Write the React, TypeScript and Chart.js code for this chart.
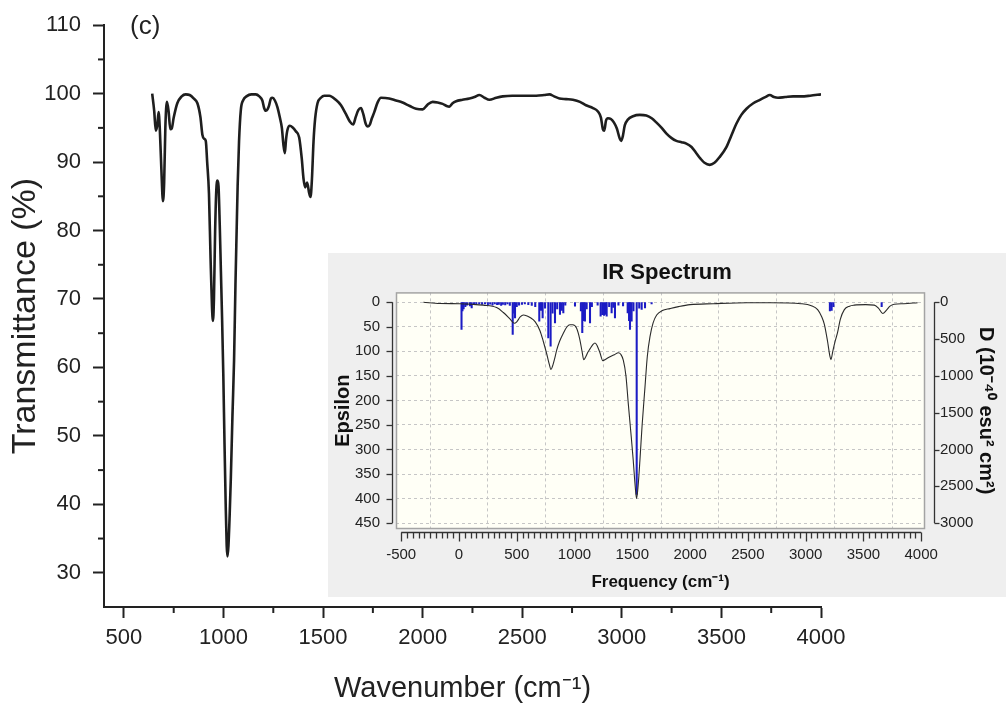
import React, { useEffect, useRef } from 'react';
import { Chart, registerables } from 'chart.js';

Chart.register(...registerables);

const FONT = "'Liberation Sans', Arial, Helvetica, sans-serif";

// ---------- main spectrum (FT-IR transmittance) ----------
const mainWavenumber = [
  642, 652, 660, 668, 674, 680, 688, 696, 702, 708, 716, 724, 733, 740, 750, 768, 790, 810, 830, 850,
  869, 884, 894, 903, 911, 918, 927, 935, 942, 947, 952, 958, 964, 970, 975, 981, 987, 993, 999, 1005,
  1011, 1016, 1020, 1025, 1031, 1037, 1045, 1053, 1060, 1066, 1071, 1078, 1087, 1100, 1115, 1140, 1162, 1180, 1195, 1204,
  1212, 1221, 1229, 1238, 1246, 1258, 1271, 1283, 1293, 1301, 1308, 1314, 1321, 1333, 1346, 1363, 1380, 1393, 1402, 1410,
  1420, 1430, 1437, 1444, 1452, 1460, 1472, 1489, 1506, 1531, 1564, 1590, 1615, 1635, 1651, 1664, 1677, 1690, 1702, 1714,
  1725, 1735, 1745, 1757, 1775, 1791, 1832, 1866, 1899, 1935, 1967, 2000, 2025, 2050, 2075, 2100, 2120, 2134, 2150, 2168,
  2200, 2235, 2260, 2285, 2310, 2335, 2370, 2402, 2450, 2500, 2570, 2610, 2637, 2660, 2687, 2720, 2754, 2790, 2820, 2855,
  2880, 2895, 2905, 2912, 2920, 2930, 2945, 2960, 2975, 2990, 2997, 3005, 3015, 3030, 3056, 3090, 3123, 3150, 3173, 3200,
  3223, 3250, 3274, 3300, 3324, 3350, 3374, 3395, 3415, 3441, 3465, 3490, 3525, 3550, 3575, 3600, 3626, 3660, 3693, 3720,
  3743, 3764, 3784, 3820, 3860, 3900, 3945, 4000,
];
const mainTransmittance = [
  100.0, 97.5, 94.6, 95.5, 97.3, 95.0, 89.0, 84.3, 87.0, 95.0, 98.8, 97.5, 94.8, 94.9, 96.5, 98.6, 99.6, 99.9, 99.8, 99.3,
  98.6, 96.6, 94.0, 93.4, 93.1, 90.0, 85.4, 76.0, 69.0, 66.8, 70.0, 80.0, 86.0, 87.3, 86.5, 81.0, 74.0, 67.0, 59.0, 49.0,
  40.0, 34.0, 32.4, 34.0, 38.5, 44.0, 53.0, 61.0, 72.0, 80.0, 86.5, 93.0, 97.6, 99.1, 99.6, 99.9, 99.9, 99.6, 99.0, 97.9,
  97.5, 97.7, 98.3, 99.3, 99.4, 99.0, 98.0, 96.5, 95.0, 92.5, 91.3, 93.3, 94.7, 95.3, 95.1, 94.5, 93.6, 90.5, 87.5, 86.3,
  87.0, 85.5, 84.9, 87.5, 93.0, 96.3, 98.6, 99.4, 99.7, 99.7, 99.1, 98.3, 97.0, 95.9, 95.5, 96.6, 97.6, 97.9, 97.0, 95.6,
  95.2, 95.5, 96.4, 97.3, 98.8, 99.4, 99.3, 99.0, 98.7, 98.2, 97.8, 97.7, 98.4, 98.8, 98.7, 98.5, 98.2, 98.1, 98.6, 98.9,
  99.1, 99.3, 99.5, 99.8, 99.4, 99.1, 99.4, 99.6, 99.7, 99.7, 99.7, 99.8, 99.9, 99.6, 99.3, 99.2, 99.1, 98.8, 98.3, 97.9,
  97.4, 96.5, 94.8, 94.6, 96.0, 96.4, 96.3, 95.8, 94.9, 93.4, 93.1, 93.8, 95.4, 96.2, 96.7, 96.9, 96.8, 96.4, 95.8, 95.0,
  94.2, 93.5, 93.1, 92.9, 92.7, 92.2, 91.3, 90.5, 89.9, 89.6, 89.9, 90.7, 92.2, 93.9, 95.6, 96.9, 97.8, 98.6, 99.1, 99.5,
  99.8, 99.5, 99.4, 99.5, 99.6, 99.6, 99.7, 99.9,
];
const mainXTicks = [500, 1000, 1500, 2000, 2500, 3000, 3500, 4000];
const mainXMinorTicks = [750, 1250, 1750, 2250, 2750, 3250, 3750];
const mainYTicks = [30, 40, 50, 60, 70, 80, 90, 100, 110];
const mainYMinorTicks = [35, 45, 55, 65, 75, 85, 95, 105];
const panelLabel = '(c)';

// ---------- inset (computed IR spectrum) ----------
const insetFrequency = [
  -308, -165, 9, 100, 210, 326, 384, 441, 479, 500, 530, 557, 590, 615, 660, 701, 730, 759, 780, 796,
  810, 828, 845, 870, 903, 935, 960, 985, 1018, 1045, 1065, 1080, 1095, 1115, 1134, 1160, 1177, 1195, 1220, 1245,
  1270, 1307, 1345, 1379, 1400, 1422, 1445, 1465, 1490, 1508, 1525, 1537, 1550, 1566, 1585, 1610, 1630, 1653, 1680, 1711,
  1760, 1826, 1900, 2000, 2200, 2490, 2700, 2960, 3050, 3104, 3140, 3162, 3190, 3210, 3219, 3235, 3255, 3277, 3300, 3335,
  3380, 3421, 3520, 3594, 3630, 3667, 3700, 3730, 3767, 3850, 3969,
];
const insetEpsilon = [
  0, 2.7, 3, 4, 6, 11, 21, 34, 43, 40, 30, 26, 28, 31, 40, 58, 80, 105, 125, 137,
  130, 115, 98, 80, 63, 50, 46, 46, 53, 75, 100, 117, 112, 102, 95, 86, 83, 88, 103, 119,
  116, 111, 107, 103, 106, 118, 150, 206, 272, 322, 375, 400, 375, 322, 250, 172, 110, 70, 42, 26,
  17, 13, 9, 5, 3, 1, 1, 3, 7, 15, 30, 45, 80, 110, 117, 100, 80, 61, 35, 15,
  8, 6, 5, 6, 12, 23, 16, 8, 4, 3, 1,
];
const stickFrequency = [
  22, 30, 40, 55, 70, 95, 110, 130, 150, 175, 200, 225, 250, 270, 290, 310, 330, 345, 365, 380,
  400, 420, 440, 465, 478, 485, 500, 520, 545, 570, 600, 630, 660, 695, 710, 724, 745, 773, 793, 810,
  831, 850, 874, 890, 903, 920, 1004, 1055, 1067, 1078, 1090, 1105, 1134, 1150, 1200, 1226, 1240, 1255, 1270, 1278,
  1300, 1321, 1335, 1350, 1380, 1420, 1460, 1472, 1480, 1494, 1510, 1538, 1560, 1581, 1610, 1667, 3210, 3225, 3240, 3658,
];
const stickIntensity = [
  371, 120, 90, 60, 40, 50, 77, 30, 20, 25, 30, 22, 35, 28, 40, 25, 35, 30, 45, 30,
  38, 25, 45, 438, 150, 212, 60, 40, 30, 25, 35, 45, 60, 258, 110, 212, 80, 484, 597, 150,
  280, 90, 167, 110, 144, 40, 54, 120, 415, 250, 258, 90, 280, 60, 40, 190, 170, 180, 167, 190,
  60, 144, 70, 212, 40, 50, 144, 250, 371, 258, 120, 2610, 80, 99, 77, 22, 120, 110, 60, 60,
];
const insetXTicks = [-500, 0, 500, 1000, 1500, 2000, 2500, 3000, 3500, 4000];
const epsilonTicks = [0, 50, 100, 150, 200, 250, 300, 350, 400, 450];
const dipoleTicks = [0, 500, 1000, 1500, 2000, 2500, 3000];

const setTicks = (values: number[]) => (scale: any) => {
  scale.ticks = values.map((v) => ({ value: v }));
};

const mainTicksPlugin = {
  id: 'mainTicks',
  afterDraw(chart: any) {
    const { ctx, chartArea: a, scales } = chart;
    ctx.save();
    ctx.strokeStyle = '#222';
    ctx.lineWidth = 2;
    mainXMinorTicks.forEach((v) => {
      const px = scales.x.getPixelForValue(v);
      ctx.beginPath();
      ctx.moveTo(px, a.bottom);
      ctx.lineTo(px, a.bottom + 6);
      ctx.stroke();
    });
    mainYMinorTicks.forEach((v) => {
      const py = scales.y.getPixelForValue(v);
      ctx.beginPath();
      ctx.moveTo(a.left, py);
      ctx.lineTo(a.left - 6, py);
      ctx.stroke();
    });
    ctx.fillStyle = '#222';
    ctx.font = `26px ${FONT}`;
    ctx.textBaseline = 'middle';
    ctx.textAlign = 'left';
    ctx.fillText(panelLabel, 130, 27);
    ctx.restore();
  },
};

const insetFramePlugin = {
  id: 'insetFrame',
  beforeDraw(chart: any) {
    const { ctx, chartArea: a } = chart;
    ctx.save();
    ctx.fillStyle = '#fffff6';
    ctx.fillRect(a.left, a.top, a.right - a.left, a.bottom - a.top);
    ctx.restore();
  },
  afterDraw(chart: any) {
    const { ctx, chartArea: a, scales } = chart;
    const line = (x1: number, y1: number, x2: number, y2: number) => {
      ctx.beginPath();
      ctx.moveTo(x1, y1);
      ctx.lineTo(x2, y2);
      ctx.stroke();
    };
    ctx.save();
    ctx.strokeStyle = '#a4a4a4';
    ctx.lineWidth = 1.5;
    ctx.strokeRect(a.left + 0.5, a.top + 0.5, a.right - a.left - 1, a.bottom - a.top - 1);
    ctx.strokeStyle = '#333';
    ctx.lineWidth = 1.3;
    // bottom axis
    const x = scales.x;
    const by = a.bottom + 3.5;
    const xs = insetXTicks[0];
    const xe = insetXTicks[insetXTicks.length - 1];
    line(x.getPixelForValue(xs), by, x.getPixelForValue(xe), by);
    for (let v = xs; v <= xe; v += 50) {
      const px = Math.round(x.getPixelForValue(v)) + 0.5;
      line(px, by, px, by + (v % 500 === 0 ? 9 : 6));
    }
    // left axis (Epsilon)
    const y = scales.y;
    const lx = a.left - 3.5;
    line(lx, y.getPixelForValue(epsilonTicks[0]), lx, y.getPixelForValue(epsilonTicks[epsilonTicks.length - 1]));
    epsilonTicks.forEach((v) => {
      const py = Math.round(y.getPixelForValue(v)) + 0.5;
      line(lx, py, lx - 6, py);
    });
    // right axis (D)
    const y2 = scales.y2;
    const rx = a.right + 9.5;
    line(rx, y2.getPixelForValue(dipoleTicks[0]), rx, y2.getPixelForValue(dipoleTicks[dipoleTicks.length - 1]));
    dipoleTicks.forEach((v) => {
      const py = Math.round(y2.getPixelForValue(v)) + 0.5;
      line(rx, py, rx + 5, py);
    });
    ctx.restore();
  },
};

export default function App() {
  const mainRef = useRef<HTMLCanvasElement>(null);
  const insetRef = useRef<HTMLCanvasElement>(null);

  useEffect(() => {
    const tickFont = { family: FONT, size: 22 };
    const main = new Chart(mainRef.current as HTMLCanvasElement, {
      type: 'line',
      data: {
        datasets: [
          {
            data: mainWavenumber.map((w, i) => ({ x: w, y: mainTransmittance[i] })),
            borderColor: '#1e1e1e',
            borderWidth: 2.6,
            pointRadius: 0,
            fill: false,
            cubicInterpolationMode: 'monotone',
          },
        ],
      },
      options: {
        responsive: false,
        animation: false,
        devicePixelRatio: 1,
        layout: { padding: { left: 0, top: 25, right: 185, bottom: 0 } },
        plugins: { legend: { display: false }, tooltip: { enabled: false } },
        scales: {
          x: {
            type: 'linear',
            min: 400,
            max: 4000,
            afterBuildTicks: setTicks(mainXTicks),
            afterFit: (s: any) => {
              s.height = 105;
            },
            grid: { drawOnChartArea: false, drawTicks: true, tickLength: 11, tickWidth: 2, tickColor: '#222' },
            border: { display: true, color: '#222', width: 2 },
            ticks: { padding: 7, color: '#222', font: tickFont, maxRotation: 0, autoSkip: false, callback: (v: any) => String(v) },
            title: {
              display: true,
              text: 'Wavenumber (cm⁻¹)',
              color: '#222',
              font: { family: FONT, size: 29 },
              padding: { top: 0, bottom: 6 },
            },
          },
          y: {
            type: 'linear',
            min: 25,
            max: 110,
            afterBuildTicks: setTicks(mainYTicks),
            afterFit: (s: any) => {
              s.width = 104;
            },
            grid: { drawOnChartArea: false, drawTicks: true, tickLength: 11, tickWidth: 2, tickColor: '#222' },
            border: { display: true, color: '#222', width: 2 },
            ticks: { padding: 12, color: '#222', font: tickFont, autoSkip: false, callback: (v: any) => String(v) },
            title: {
              display: true,
              text: 'Transmittance (%)',
              color: '#222',
              font: { family: FONT, size: 34 },
              padding: { top: 5, bottom: 0 },
            },
          },
        },
      },
      plugins: [mainTicksPlugin],
    } as any);

    const insetTick = { family: FONT, size: 15 };
    const inset = new Chart(insetRef.current as HTMLCanvasElement, {
      type: 'line',
      data: {
        datasets: [
          {
            type: 'line',
            data: insetFrequency.map((f, i) => ({ x: f, y: insetEpsilon[i] })),
            yAxisID: 'y',
            borderColor: '#2a2a2a',
            borderWidth: 1.1,
            pointRadius: 0,
            fill: false,
            cubicInterpolationMode: 'monotone',
            order: 1,
          },
          {
            type: 'bar',
            data: stickFrequency.map((f, i) => ({ x: f, y: stickIntensity[i] })),
            yAxisID: 'y2',
            backgroundColor: '#1c1cc4',
            barThickness: 1.4,
            grouped: false,
            order: 2,
          },
        ],
      },
      options: {
        responsive: false,
        animation: false,
        devicePixelRatio: 1,
        layout: { padding: 0 },
        plugins: {
          legend: { display: false },
          tooltip: { enabled: false },
          title: {
            display: true,
            text: 'IR Spectrum',
            color: '#111',
            font: { family: FONT, size: 22, weight: 'bold' },
            padding: { top: 7, bottom: 6 },
          },
        },
        scales: {
          x: {
            type: 'linear',
            min: -545,
            max: 4033,
            offset: false,
            afterBuildTicks: setTicks(insetXTicks),
            afterFit: (s: any) => {
              s.height = 68;
            },
            grid: { color: '#c6c6c6', drawTicks: true, tickLength: 12, tickColor: 'rgba(0,0,0,0)' },
            border: { display: false, dash: [3, 3] },
            ticks: { padding: 5, color: '#222', font: insetTick, maxRotation: 0, autoSkip: false, callback: (v: any) => String(v) },
            title: {
              display: true,
              text: 'Frequency (cm⁻¹)',
              color: '#111',
              font: { family: FONT, size: 17, weight: 'bold' },
              padding: { top: 0, bottom: 4 },
            },
          },
          y: {
            type: 'linear',
            position: 'left',
            min: -20,
            max: 462,
            reverse: true,
            afterBuildTicks: setTicks(epsilonTicks),
            afterFit: (s: any) => {
              s.width = 68;
            },
            grid: { color: '#c6c6c6', drawTicks: true, tickLength: 9, tickColor: 'rgba(0,0,0,0)' },
            border: { display: false, dash: [3, 3] },
            ticks: { padding: 7, color: '#222', font: insetTick, autoSkip: false, callback: (v: any) => String(v) },
            title: {
              display: true,
              text: 'Epsilon',
              color: '#111',
              font: { family: FONT, size: 20, weight: 'bold' },
              padding: { top: 3, bottom: 0 },
            },
          },
          y2: {
            type: 'linear',
            position: 'right',
            min: -133,
            max: 3079,
            reverse: true,
            afterBuildTicks: setTicks(dipoleTicks),
            afterFit: (s: any) => {
              s.width = 81;
            },
            grid: { drawOnChartArea: false, drawTicks: true, tickLength: 9, tickColor: 'rgba(0,0,0,0)' },
            border: { display: false },
            ticks: { padding: 6, color: '#222', font: insetTick, autoSkip: false, callback: (v: any) => String(v) },
            title: {
              display: true,
              text: 'D (10⁻⁴⁰ esu² cm²)',
              color: '#111',
              font: { family: FONT, size: 20, weight: 'bold' },
              padding: { top: 8, bottom: 0 },
            },
          },
        },
      },
      plugins: [insetFramePlugin],
    } as any);

    return () => {
      main.destroy();
      inset.destroy();
    };
  }, []);

  return (
    <div style={{ position: 'absolute', left: 0, top: 0, width: 1006, height: 712, background: '#ffffff', overflow: 'hidden' }}>
      <canvas ref={mainRef} width={1006} height={712} style={{ position: 'absolute', left: 0, top: 0 }} />
      <div style={{ position: 'absolute', left: 328, top: 253, width: 678, height: 344, background: '#efefef' }}>
        <canvas ref={insetRef} width={678} height={344} style={{ position: 'absolute', left: 0, top: 0 }} />
      </div>
    </div>
  );
}
